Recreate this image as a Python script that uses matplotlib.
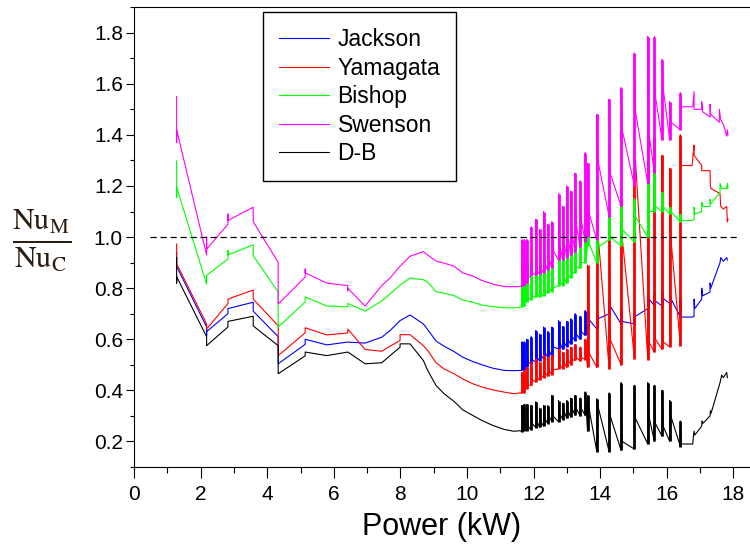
import numpy as np
import matplotlib
matplotlib.use("Agg")
from matplotlib import pyplot as plt
from matplotlib.ticker import MultipleLocator

plt.rcParams['font.family'] = ['Liberation Sans', 'DejaVu Sans']
plt.rcParams['mathtext.fontset'] = 'stix'

############################## data ##############################
# smooth part, 1.3 - 11.6 kW  (x, y)
jackson_smooth = [(1.28,0.94),(1.28,0.885),(2.18,0.648),(2.18,0.613),(2.18,0.63),(2.82,0.70),(2.82,0.72),
    (3.58,0.745),(3.58,0.71),(4.33,0.61),(4.33,0.504),(5.14,0.58),(5.14,0.60),(5.79,0.578),(6.42,0.589),
    (6.94,0.585),(7.44,0.608),(7.69,0.634),(7.99,0.673),(8.29,0.695),(8.69,0.66),(8.82,0.638),(9.07,0.593),
    (9.31,0.573),(9.61,0.552),(9.87,0.53),(10.17,0.513),(10.45,0.50),(10.77,0.487),(11.12,0.478),
    (11.40,0.477),(11.60,0.478)]
yamagata_smooth = [(1.28,0.973),(1.28,0.895),(2.18,0.66),(2.18,0.64),(2.82,0.74),(2.82,0.757),(3.58,0.793),
    (3.58,0.757),(4.33,0.653),(4.33,0.536),(5.14,0.625),(5.14,0.645),(5.79,0.617),(6.42,0.625),(6.42,0.64),
    (6.94,0.56),(7.44,0.553),(7.69,0.573),(7.99,0.595),(7.99,0.618),(8.29,0.618),(8.69,0.575),(8.82,0.556),
    (9.07,0.508),(9.31,0.484),(9.61,0.465),(9.87,0.445),(10.17,0.426),(10.45,0.413),(10.77,0.402),
    (11.12,0.393),(11.40,0.387),(11.60,0.39)]
bishop_smooth = [(1.28,1.298),(1.28,1.155),(1.28,1.195),(2.18,0.816),(2.18,0.85),(2.82,0.914),(2.82,0.947),
    (2.82,0.93),(3.58,0.97),(3.58,0.927),(4.33,0.785),(4.33,0.648),(5.14,0.746),(5.14,0.766),(5.79,0.73),
    (6.42,0.727),(6.42,0.74),(6.94,0.71),(7.44,0.75),(7.69,0.777),(7.99,0.812),(8.29,0.84),(8.69,0.833),
    (8.82,0.824),(9.07,0.786),(9.31,0.78),(9.61,0.771),(9.87,0.754),(10.17,0.745),(10.45,0.734),
    (10.77,0.728),(11.12,0.723),(11.40,0.723),(11.60,0.725)]
swenson_smooth = [(1.28,1.55),(1.28,1.37),(1.28,1.42),(2.18,0.93),(2.18,1.0),(2.18,0.953),(2.82,1.05),
    (2.82,1.09),(2.82,1.065),(3.58,1.117),(3.58,1.06),(4.33,0.901),(4.33,0.738),(5.14,0.844),(5.14,0.875),
    (5.14,0.86),(5.79,0.82),(6.42,0.81),(6.42,0.79),(6.42,0.80),(6.94,0.73),(7.44,0.81),(7.69,0.84),
    (7.99,0.886),(8.29,0.925),(8.69,0.943),(8.82,0.93),(9.07,0.906),(9.31,0.898),(9.61,0.886),(9.87,0.86),
    (10.17,0.848),(10.45,0.83),(10.77,0.816),(11.12,0.806),(11.40,0.806),(11.60,0.806)]
db_smooth = [(1.28,0.92),(1.28,0.82),(1.28,0.845),(2.18,0.61),(2.18,0.575),(2.82,0.648),(2.82,0.67),
    (3.58,0.69),(3.58,0.652),(4.33,0.575),(4.33,0.465),(5.14,0.535),(5.14,0.55),(5.79,0.536),(6.42,0.55),
    (6.94,0.504),(7.44,0.508),(7.69,0.536),(7.99,0.569),(7.99,0.582),(8.29,0.582),(8.69,0.517),(8.82,0.478),
    (9.07,0.419),(9.31,0.387),(9.61,0.357),(9.87,0.324),(10.17,0.302),(10.45,0.282),(10.77,0.263),
    (11.12,0.247),(11.40,0.24),(11.60,0.242)]

# spiky part, 11.6 - 16.4 kW: one vertical stroke per power step
spike_x = [11.65,11.72,11.80,11.93,12.07,12.18,12.30,12.43,12.55,12.75,12.88,13.00,13.12,13.25,13.40,13.55,
           13.62,13.90,14.27,14.63,15.03,15.43,15.63,15.86,16.09,16.41]

jackson_top = [0.59,0.59,0.60,0.61,0.634,0.62,0.648,0.63,0.648,0.673,0.65,0.67,0.68,0.70,0.69,0.712,
               0.71,0.70,0.75,0.72,0.70,0.77,0.78,0.78,0.77,0.757]
jackson_bot = [0.478,0.48,0.49,0.504,0.51,0.515,0.523,0.53,0.53,0.5625,0.56,0.57,0.58,0.595,0.60,0.615,
               0.64,0.64,0.70,0.66,0.66,0.72,0.73,0.73,0.74,0.687]
jackson_exit = [0.49,0.50,0.51,0.52,0.53,0.54,0.55,0.56,0.57,0.59,0.59,0.60,0.61,0.62,0.63,0.64,
                0.68,0.68,0.73,0.67,0.69,0.76,0.75,0.76,0.76,0.687]

yamagata_top = [0.47,0.48,0.49,0.51,0.523,0.51,0.54,0.53,0.54,0.5625,0.55,0.5625,0.57,0.58,0.57,0.60,
                0.89,1.10,1.09,1.15,1.26,1.40,1.39,1.32,1.27,1.40]
yamagata_bot = [0.39,0.39,0.406,0.42,0.433,0.44,0.45,0.455,0.46,0.484,0.485,0.49,0.50,0.517,0.515,0.52,
                0.49,0.49,0.484,0.50,0.523,0.52,0.55,0.56,0.57,0.575]
yamagata_exit = [0.40,0.41,0.42,0.44,0.45,0.46,0.47,0.48,0.48,0.50,0.51,0.52,0.52,0.53,0.53,0.54,
                 0.55,1.02,0.60,1.00,1.30,0.59,0.60,0.59,1.00,1.28]

bishop_top = [0.888,0.89,0.90,0.91,0.92,0.90,0.92,0.91,0.92,0.966,0.94,0.96,0.97,0.99,1.00,1.03,
              1.03,1.044,1.11,1.12,1.15,1.21,1.30,1.175,1.117,1.09]
bishop_bot = [0.727,0.73,0.745,0.755,0.765,0.765,0.77,0.78,0.785,0.81,0.81,0.82,0.84,0.86,0.88,0.90,
              0.965,0.90,0.99,0.965,0.98,1.00,1.10,1.10,1.09,1.06]
bishop_exit = [0.74,0.75,0.76,0.77,0.78,0.78,0.79,0.80,0.80,0.83,0.84,0.85,0.86,0.88,0.90,0.92,
               0.98,0.96,1.00,1.03,1.08,1.10,1.12,1.12,1.10,1.065]

swenson_top = [0.99,0.99,0.99,1.04,1.07,1.03,1.10,1.05,1.06,1.17,1.12,1.20,1.18,1.25,1.22,1.33,
               1.29,1.48,1.54,1.585,1.72,1.785,1.785,1.695,1.53,1.565]
swenson_bot = [0.81,0.81,0.82,0.85,0.85,0.855,0.86,0.87,0.88,0.91,0.91,0.92,0.93,0.94,0.96,0.98,
               1.00,0.99,1.08,1.12,1.20,1.21,1.25,1.38,1.38,1.42]
swenson_exit = [0.82,0.83,0.84,0.86,0.87,0.88,0.90,0.92,0.95,0.97,0.98,1.00,1.02,1.05,1.07,1.10,
                1.10,1.30,1.25,1.42,1.49,1.41,1.55,1.585,1.45,1.51]

db_top = [0.341,0.345,0.345,0.341,0.355,0.33,0.341,0.34,0.38,0.36,0.35,0.36,0.37,0.38,0.37,0.394,
          0.38,0.367,0.39,0.43,0.42,0.43,0.42,0.40,0.36,0.28]
db_bot = [0.238,0.242,0.242,0.245,0.254,0.255,0.26,0.27,0.277,0.277,0.285,0.29,0.295,0.302,0.30,0.302,
          0.24,0.16,0.16,0.165,0.17,0.19,0.20,0.22,0.20,0.18]
db_exit = [0.25,0.26,0.26,0.27,0.28,0.28,0.29,0.30,0.30,0.31,0.32,0.32,0.33,0.33,0.33,0.33,
           0.34,0.34,0.30,0.20,0.29,0.30,0.27,0.26,0.30,0.19]

# tail, 16.4 - 17.9 kW  (x, y)
jackson_tail = [(16.78,0.687),(16.82,0.69),(16.82,0.757),(16.84,0.72),(17.05,0.757),(17.05,0.80),
    (17.08,0.77),(17.3,0.785),(17.3,0.82),(17.32,0.80),(17.6,0.90),(17.62,0.92),(17.7,0.905),(17.8,0.92),
    (17.82,0.91)]
yamagata_tail = [(16.76,1.28),(16.82,1.36),(16.82,1.32),(17.05,1.28),(17.05,1.26),(17.3,1.26),(17.31,1.20),
    (17.33,1.19),(17.6,1.17),(17.62,1.12),(17.7,1.11),(17.8,1.12),(17.82,1.06),(17.84,1.07)]
bishop_tail = [(16.78,1.065),(16.82,1.07),(16.82,1.117),(16.84,1.09),(17.05,1.10),(17.05,1.137),
    (17.08,1.12),(17.3,1.12),(17.3,1.148),(17.32,1.13),(17.6,1.175),(17.6,1.21),(17.65,1.19),(17.8,1.19),
    (17.82,1.21),(17.84,1.19)]
swenson_tail = [(16.78,1.51),(16.82,1.57),(16.82,1.50),(17.05,1.50),(17.05,1.53),(17.08,1.49),(17.3,1.47),
    (17.3,1.52),(17.32,1.48),(17.58,1.45),(17.58,1.50),(17.62,1.46),(17.7,1.44),(17.75,1.42),(17.8,1.395),
    (17.82,1.42),(17.84,1.40)]
db_tail = [(16.78,0.19),(16.8,0.22),(16.82,0.24),(16.84,0.225),(17.05,0.26),(17.06,0.28),(17.08,0.27),
    (17.3,0.30),(17.31,0.32),(17.33,0.31),(17.6,0.43),(17.65,0.46),(17.7,0.45),(17.8,0.47),(17.82,0.45)]

labels = ['Jackson', 'Yamagata', 'Bishop', 'Swenson', 'D-B']
colors = ['#0000ff', '#ff0000', '#00ff00', '#ff00ff', '#000000']
smooth = [jackson_smooth, yamagata_smooth, bishop_smooth, swenson_smooth, db_smooth]
tops = [jackson_top, yamagata_top, bishop_top, swenson_top, db_top]
bots = [jackson_bot, yamagata_bot, bishop_bot, swenson_bot, db_bot]
exits = [jackson_exit, yamagata_exit, bishop_exit, swenson_exit, db_exit]
tails = [jackson_tail, yamagata_tail, bishop_tail, swenson_tail, db_tail]

############################## plot ##############################
fig = plt.figure(figsize=(7.5, 5.52), dpi=100)
ax = fig.add_axes([0.1787, 0.154, 0.8213, 0.833])

for k in range(5):
    xs = [p[0] for p in smooth[k]]
    ys = [p[1] for p in smooth[k]]
    # each power step: up the stroke, back down, leave at exit level
    for x, t, b, e in zip(spike_x, tops[k], bots[k], exits[k]):
        xs += [x, x, x + 0.03]
        ys += [b, t, e]
    xs += [p[0] for p in tails[k]]
    ys += [p[1] for p in tails[k]]
    ax.plot(xs, ys, color=colors[k], linewidth=0.8, label=labels[k])
    # the many points stacked at one power step make a heavy stroke
    ax.vlines(spike_x, bots[k], tops[k], color=colors[k], linewidth=2.0)

ax.plot([0.48, 18.2], [1.0, 1.0], color='black', linewidth=0.9, linestyle=(0, (5, 3)))

ax.set_xlim(0, 18.5)
ax.set_ylim(0.1, 1.9)
ax.xaxis.set_major_locator(MultipleLocator(2))
ax.xaxis.set_minor_locator(MultipleLocator(1))
ax.yaxis.set_minor_locator(MultipleLocator(0.1))
ax.set_yticks([0.2, 0.4, 0.6, 0.8, 1.0, 1.2, 1.4, 1.6, 1.8])
ax.set_yticklabels(['0.2', '0.4', '0.6', '0.8', '1.0', '1.2', '1.4', '1.6', '1.8'])
ax.tick_params(axis='both', which='major', direction='out', labelsize=15, width=0.8)
ax.tick_params(axis='x', which='major', length=8, pad=5)
ax.tick_params(axis='x', which='minor', length=4, width=0.8)
ax.tick_params(axis='y', which='major', length=6, pad=2)
ax.tick_params(axis='y', which='minor', length=3, width=0.8)
ax.spines['right'].set_visible(False)

ax.set_xlabel('Power (kW)', fontsize=22, labelpad=6)
fig.text(0.056, 0.566, r'$\frac{\mathrm{Nu_M}}{\mathrm{Nu_C}}$', fontsize=31, color='#2b1d10',
         ha='center', va='center')

leg = ax.legend(loc='upper left', bbox_to_anchor=(0.3507, 0.978), bbox_transform=fig.transFigure,
                fontsize=16.5, frameon=True, fancybox=False, edgecolor='black', framealpha=1,
                handlelength=2.2, handletextpad=0.35, labelspacing=0.24, borderpad=0.7,
                borderaxespad=0)
leg.get_frame().set_linewidth(1.0)

plt.savefig('out.png', dpi=100)
